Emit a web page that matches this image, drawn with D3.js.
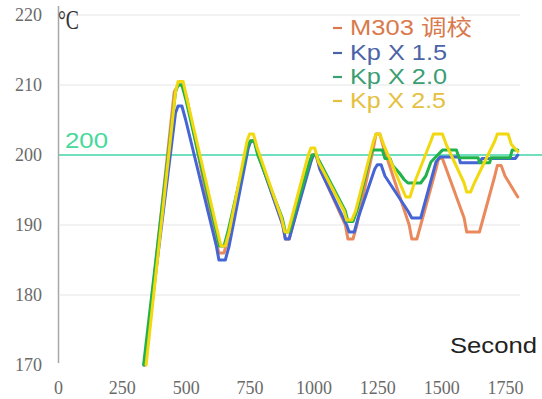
<!DOCTYPE html>
<html><head><meta charset="utf-8">
<script src="https://cdn.jsdelivr.net/npm/d3@7/dist/d3.min.js"></script>
<style>body{margin:0;background:#fff}svg{display:block}</style>
</head><body>
<svg id="c" width="542" height="399"></svg>
<script>
const seriesNames = ["M303 调校", "Kp X 1.5", "Kp X 2.0", "Kp X 2.5"];
const xTicks = [0, 250, 500, 750, 1000, 1250, 1500, 1750];
const yTicks = [170, 180, 190, 200, 210, 220];
const setpoint = 200;

const m303 = [[340,170],[455,209],[470,210],[490,210],[505,208],[615,188],[630,186],[650,186],[665,188],
  [740,201],[755,202],[770,202],[785,200],[880,190],[890,188],[905,188],[920,190],
  [985,199],[995,200],[1010,200],[1025,198],[1125,190],[1135,188],[1155,188],[1170,190],
  [1235,201],[1245,203],[1260,203],[1275,201],[1375,190],[1385,188],[1405,188],[1420,190],
  [1480,198],[1490,199.5],[1505,199.5],[1520,198],[1590,191],[1600,189],[1650,189],[1665,191],
  [1710,197],[1720,198.5],[1735,198.5],[1750,197],[1800,194]];
const kp15 = [[338,170],[460,206],[470,207],[485,207],[500,205],[620,187],[630,185],[655,185],[670,187],
  [745,201],[755,202],[770,202],[785,200],[880,190],[890,188],[905,188],[920,190],
  [990,199],[1000,200],[1012,200],[1025,198],[1130,190],[1140,189],[1160,189],[1175,191],
  [1240,198],[1250,198.6],[1265,198.6],[1280,197],[1370,192],[1385,191],[1420,191],[1435,193],
  [1480,199],[1495,199.7],[1570,199.7],[1575,198.9],[1650,198.9],[1660,199.5],[1790,199.5],[1800,200]];
const kp20 = [[335,170],[460,209],[470,210],[485,210],[500,208],[620,189],[632,187],[650,187],[665,189],
  [740,201],[752,202],[768,202],[782,200],[878,191],[890,189],[905,189],[920,191],
  [985,199],[995,200],[1010,200],[1025,199],[1125,192],[1135,190.5],[1155,190.5],[1170,192],
  [1220,199.5],[1230,200.7],[1270,200.7],[1280,199.5],[1300,199.5],[1310,198.5],[1335,197.5],
  [1355,196.5],[1370,196],[1420,196],[1440,197],[1460,199],[1505,200.7],[1560,200.7],[1570,199.6],
  [1645,199.6],[1650,198.9],[1690,198.9],[1695,199.6],[1770,199.6],[1778,200.7],[1800,200.7]];
const kp25 = [[345,170],[460,209],[470,210.5],[490,210.5],[505,208],[625,189],[638,187],[655,187],[670,189],
  [740,202],[750,203],[765,203],[780,201],[875,191],[888,189],[900,189],[915,191],
  [980,200],[990,201],[1005,201],[1020,199],[1120,192],[1130,190.7],[1150,190.7],[1165,192],
  [1235,202],[1245,203],[1260,203],[1275,201.5],[1350,195],[1362,194],[1378,194],[1395,196],
  [1460,202],[1470,203],[1505,203],[1520,201.5],[1590,196],[1600,194.7],[1615,194.7],[1630,196],
  [1710,202],[1720,203],[1762,203],[1775,201.5],[1800,200.5]];

const seriesData = [m303, kp15, kp20, kp25];
const lineColors = ["#ea8a5c", "#4565d4", "#22b24c", "#f2d80e"];
const textColors = ["#d9794c", "#4b63a8", "#3c9e73", "#e5c040"];

const svg = d3.select("#c");
const x = d3.scaleLinear().domain([0, 1750]).range([58, 505]);
const y = d3.scaleLinear().domain([170, 220]).range([365, 15]);

// gridlines
svg.append("g").selectAll("line").data(yTicks.filter(v => v !== 200 && v !== 170)).join("line")
  .attr("x1", 60).attr("x2", 520).attr("y1", d => y(d)).attr("y2", d => y(d))
  .attr("stroke", "#eeeeee").attr("stroke-width", 1.5);

// setpoint line
svg.append("line").attr("x1", 58).attr("x2", 542).attr("y1", y(setpoint)).attr("y2", y(setpoint))
  .attr("stroke", "#6fdfbd").attr("stroke-width", 2);

// y axis line
svg.append("line").attr("x1", 58.5).attr("x2", 58.5).attr("y1", 6).attr("y2", 363)
  .attr("stroke", "#a8a8a8").attr("stroke-width", 1.5);

const yAxis = svg.append("g").attr("transform", "translate(58,0)")
  .call(d3.axisLeft(y).tickValues(yTicks).tickSize(0).tickPadding(16).tickFormat(d3.format("d")));
yAxis.select(".domain").remove();
yAxis.selectAll("text").attr("font-family", "Liberation Serif, serif").attr("font-size", 18).attr("fill", "#6a6a6a");

const xAxis = svg.append("g").attr("transform", "translate(0,365)")
  .call(d3.axisBottom(x).tickValues(xTicks).tickSize(0).tickPadding(16).tickFormat(d3.format("d")));
xAxis.select(".domain").remove();
xAxis.selectAll("text").attr("font-family", "Liberation Serif, serif").attr("font-size", 18).attr("fill", "#6a6a6a");

// lines
const line = d3.line().x(d => x(d[0])).y(d => y(d[1]));
svg.append("g").selectAll("path").data(seriesData).join("path")
  .attr("d", line).attr("fill", "none")
  .attr("stroke", (d, i) => lineColors[i]).attr("stroke-width", 3)
  .attr("stroke-linejoin", "round").attr("stroke-linecap", "round");

// unit label
svg.append("text").attr("x", 58).attr("y", 29).text("°C")
  .attr("font-family", "Liberation Serif, serif").attr("font-size", 27).attr("fill", "#333")
  .attr("textLength", 21).attr("lengthAdjust", "spacingAndGlyphs");

// setpoint label
svg.append("text").attr("x", 65).attr("y", 148).text(String(setpoint))
  .attr("font-family", "Liberation Sans, Arial, sans-serif").attr("font-size", 22).attr("fill", "#45d99a")
  .attr("textLength", 43).attr("lengthAdjust", "spacingAndGlyphs");

// x title
svg.append("text").attr("x", 450).attr("y", 353).text("Second")
  .attr("font-family", "Liberation Sans, Arial, sans-serif").attr("font-size", 22).attr("fill", "#222")
  .attr("textLength", 87).attr("lengthAdjust", "spacingAndGlyphs");

// legend
const legendLens = [122, 97, 97, 96];
const legendY = [35, 60, 84, 108];
const lg = svg.append("g").selectAll("g").data(seriesNames).join("g")
  .attr("transform", (d, i) => `translate(333,${legendY[i]})`);
lg.append("line").attr("x1", 0).attr("x2", 9).attr("y1", -7).attr("y2", -7)
  .attr("stroke", (d, i) => textColors[i]).attr("stroke-width", 2.2);
lg.append("text").attr("x", 17).attr("y", 0).text(d => d)
  .attr("font-family", "Liberation Sans, Arial, 'Noto Sans CJK SC', sans-serif").attr("font-size", 22)
  .attr("fill", (d, i) => textColors[i])
  .attr("textLength", (d, i) => legendLens[i]).attr("lengthAdjust", "spacingAndGlyphs");
</script>
</body></html>
